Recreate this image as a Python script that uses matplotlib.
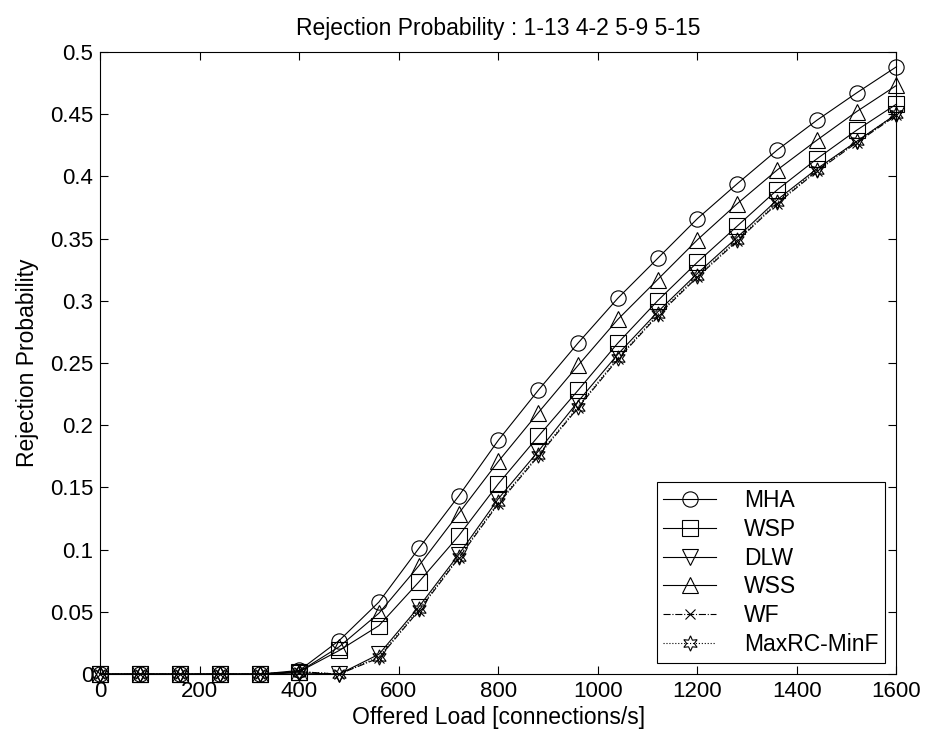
# Rejection probability vs offered load, redrawn from the scanned figure

import matplotlib.pyplot as plt
import numpy as np

plt.rcParams['font.family'] = ['Liberation Sans', 'DejaVu Sans']

load = [0, 80, 160, 240, 320, 400, 480, 560, 640, 720, 800, 880, 960,
        1040, 1120, 1200, 1280, 1360, 1440, 1520, 1600]

mha = [0, 0, 0, 0, 0, 0.003, 0.027, 0.058, 0.101, 0.143, 0.188, 0.228, 0.266,
       0.302, 0.334, 0.366, 0.394, 0.421, 0.445, 0.467, 0.488]
wsp = [0, 0, 0, 0, 0, 0.002, 0.019, 0.039, 0.074, 0.111, 0.153, 0.191, 0.228,
       0.266, 0.300, 0.331, 0.360, 0.389, 0.414, 0.437, 0.458]
dlw = [0, 0, 0, 0, 0, 0.001, 0, 0.016, 0.054, 0.096, 0.141, 0.179, 0.219,
       0.257, 0.291, 0.322, 0.351, 0.381, 0.406, 0.428, 0.450]
wss = [0, 0, 0, 0, 0, 0.002, 0.022, 0.049, 0.087, 0.129, 0.171, 0.210, 0.248,
       0.285, 0.317, 0.349, 0.378, 0.405, 0.429, 0.452, 0.473]
wf = [0, 0, 0, 0, 0, 0.002, 0, 0.013, 0.051, 0.093, 0.137, 0.175, 0.214,
      0.253, 0.288, 0.319, 0.348, 0.378, 0.404, 0.427, 0.449]
maxrc = [0, 0, 0, 0, 0, 0.002, 0, 0.014, 0.052, 0.094, 0.138, 0.176, 0.215,
         0.254, 0.289, 0.320, 0.349, 0.379, 0.405, 0.428, 0.450]

fig = plt.figure(figsize=(9.29, 7.40), dpi=100)
ax = fig.add_axes([0.108, 0.089, 0.857, 0.841])

kw = dict(color='k', lw=0.8, markersize=11, markerfacecolor='none',
          markeredgewidth=0.8, clip_on=False)
ax.plot(load, mha, '-o', label='MHA', **kw)
ax.plot(load, wsp, '-s', label='WSP', **kw)
ax.plot(load, dlw, '-v', label='DLW', **kw)
ax.plot(load, wss, '-^', label='WSS', **kw)
ax.plot(load, wf, '-.x', label='WF', color='k', lw=0.8, markersize=7,
        markeredgewidth=0.8, clip_on=False)
ax.plot(load, maxrc, ':', marker=(6, 1, 0), label='MaxRC-MinF', **kw)

ax.set_xlim(0, 1600)
ax.set_ylim(0, 0.5)
ax.set_xticks(np.arange(0, 1601, 200))
ax.set_yticks(np.arange(0, 0.501, 0.05))
ax.set_yticklabels(['0', '0.05', '0.1', '0.15', '0.2', '0.25', '0.3',
                    '0.35', '0.4', '0.45', '0.5'])
ax.tick_params(direction='in', length=6, top=True, right=True,
               labelsize=16, pad=5)

ax.set_xlabel('Offered Load [connections/s]', fontsize=16.5, labelpad=3)
ax.set_ylabel('Rejection Probability', fontsize=16.5, labelpad=8)
ax.set_title('Rejection Probability : 1-13 4-2 5-9 5-15', fontsize=16.5, pad=12)

leg = ax.legend(loc='lower right', fontsize=16.5, fancybox=False,
                edgecolor='k', framealpha=1, handlelength=2.3,
                handletextpad=1.2, borderpad=0.3, borderaxespad=0.5,
                labelspacing=0.25)
leg.get_frame().set_linewidth(0.8)

fig.savefig('out.png', dpi=100)
